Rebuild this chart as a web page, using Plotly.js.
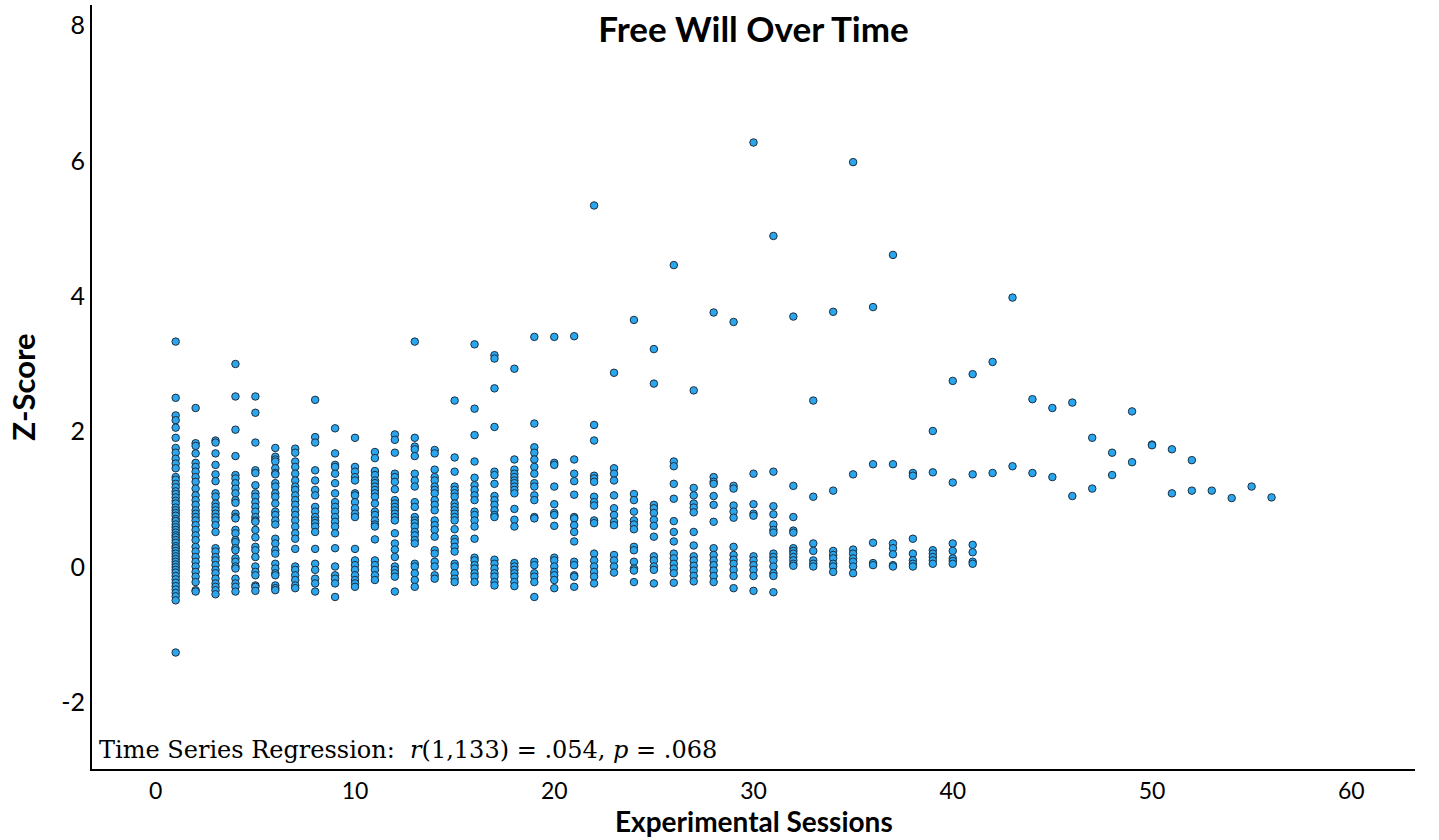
<!DOCTYPE html>
<html>
<head>
<meta charset="utf-8">
<script src="https://cdn.plot.ly/plotly-3.0.1.min.js"></script>
<style>html,body{margin:0;padding:0;background:#fff;}#chart{width:1439px;height:840px;}</style>
</head>
<body>
<div id="chart"></div>
<script>
// Experimental session numbers (x categories)
const sessions = [1,2,3,4,5,6,7,8,9,10,11,12,13,14,15,16,17,18,19,20,21,22,23,24,25,26,27,28,29,30,31,32,33,34,35,36,37,38,39,40,41,42,43,44,45,46,47,48,49,50,51,52,53,54,55,56];

const zScores = [
  /*1*/ [3.33,2.50,2.24,2.17,2.06,1.91,1.76,1.69,1.60,1.53,1.46,1.33,1.29,1.23,1.18,1.12,1.08,1.03,0.98,0.94,0.88,0.84,0.80,0.76,0.71,0.68,0.63,0.59,0.55,0.51,0.47,0.44,0.40,0.36,0.31,0.28,0.24,0.20,0.16,0.12,0.08,0.04,0.00,-0.04,-0.08,-0.13,-0.18,-0.23,-0.28,-0.33,-0.38,-0.43,-0.49,-1.26],
  /*2*/ [2.35,1.83,1.79,1.68,1.54,1.48,1.41,1.33,1.26,1.16,1.06,0.99,0.92,0.84,0.79,0.74,0.69,0.62,0.55,0.47,0.40,0.30,0.23,0.15,0.08,0.01,-0.07,-0.14,-0.22,-0.34,-0.36],
  /*3*/ [1.87,1.84,1.68,1.51,1.37,1.27,1.09,1.04,0.94,0.89,0.84,0.79,0.74,0.69,0.62,0.52,0.28,0.23,0.15,0.10,0.03,-0.04,-0.09,-0.17,-0.24,-0.29,-0.34,-0.40],
  /*4*/ [3.00,2.52,2.03,1.64,1.36,1.31,1.24,1.16,1.09,0.99,0.95,0.79,0.74,0.72,0.55,0.50,0.40,0.37,0.28,0.25,0.13,0.08,0.01,-0.02,-0.17,-0.24,-0.29,-0.36],
  /*5*/ [2.52,2.28,1.84,1.43,1.39,1.21,1.09,1.04,0.96,0.89,0.82,0.74,0.69,0.67,0.55,0.44,0.30,0.25,0.15,0.01,-0.07,-0.12,-0.27,-0.29,-0.35],
  /*6*/ [1.76,1.63,1.59,1.56,1.46,1.39,1.37,1.24,1.19,1.09,1.04,0.94,0.82,0.77,0.69,0.63,0.42,0.35,0.25,0.20,0.05,-0.02,-0.09,-0.12,-0.27,-0.31,-0.34],
  /*7*/ [1.75,1.69,1.56,1.48,1.38,1.28,1.19,1.14,1.06,0.99,0.92,0.84,0.77,0.69,0.60,0.50,0.42,0.27,0.01,-0.04,-0.12,-0.19,-0.27,-0.31],
  /*8*/ [2.47,1.92,1.84,1.43,1.28,1.14,1.06,0.89,0.82,0.74,0.69,0.65,0.60,0.52,0.27,0.05,-0.04,-0.17,-0.24,-0.36],
  /*9*/ [2.05,1.68,1.51,1.48,1.38,1.24,1.09,0.96,0.89,0.82,0.74,0.67,0.60,0.50,0.28,0.01,-0.12,-0.17,-0.24,-0.44],
  /*10*/ [1.91,1.48,1.41,1.33,1.28,1.09,1.06,0.96,0.87,0.79,0.74,0.27,0.10,0.03,-0.04,-0.12,-0.19,-0.24,-0.29],
  /*11*/ [1.70,1.61,1.42,1.36,1.28,1.24,1.19,1.14,1.09,1.04,0.94,0.82,0.77,0.69,0.63,0.60,0.41,0.10,0.03,-0.04,-0.12,-0.19],
  /*12*/ [1.96,1.88,1.69,1.38,1.33,1.26,1.15,0.99,0.94,0.89,0.84,0.79,0.74,0.69,0.50,0.35,0.26,0.15,0.01,-0.04,-0.09,-0.14,-0.36],
  /*13*/ [3.33,1.91,1.78,1.74,1.64,1.38,1.28,1.19,0.96,0.89,0.74,0.69,0.65,0.60,0.52,0.47,0.40,0.35,0.05,0.01,-0.09,-0.19,-0.29],
  /*14*/ [1.73,1.68,1.44,1.33,1.28,1.19,1.14,1.09,0.99,0.92,0.84,0.69,0.62,0.55,0.45,0.25,0.20,0.08,0.01,-0.12,-0.17],
  /*15*/ [2.46,1.62,1.41,1.19,1.14,1.09,1.04,0.94,0.89,0.84,0.79,0.74,0.69,0.56,0.42,0.37,0.30,0.23,0.05,0.01,-0.09,-0.17,-0.22],
  /*16*/ [3.29,2.34,1.95,1.56,1.32,1.21,1.14,1.06,0.99,0.82,0.77,0.69,0.60,0.42,0.14,0.10,0.03,-0.02,-0.09,-0.14,-0.22],
  /*17*/ [3.13,3.08,2.64,2.07,1.41,1.36,1.23,1.05,0.99,0.92,0.84,0.77,0.74,0.11,0.05,-0.02,-0.09,-0.14,-0.22,-0.27],
  /*18*/ [2.93,1.59,1.44,1.38,1.33,1.28,1.24,1.19,1.14,1.09,0.86,0.70,0.60,0.06,0.01,-0.04,-0.09,-0.14,-0.22,-0.28],
  /*19*/ [3.40,2.12,1.77,1.69,1.59,1.48,1.38,1.24,1.19,1.06,0.99,0.74,0.72,0.08,0.03,-0.09,-0.14,-0.22,-0.44],
  /*20*/ [3.40,1.54,1.51,1.19,0.93,0.80,0.77,0.61,0.14,0.10,0.01,-0.07,-0.12,-0.19,-0.31],
  /*21*/ [3.41,1.59,1.38,1.27,1.07,0.74,0.72,0.62,0.52,0.38,0.08,0.03,-0.12,-0.14,-0.29],
  /*22*/ [5.34,2.10,1.87,1.35,1.31,1.26,1.04,0.96,0.91,0.69,0.65,0.20,0.10,0.01,-0.07,-0.14,-0.24],
  /*23*/ [2.87,1.46,1.38,1.28,1.06,0.87,0.77,0.67,0.62,0.18,0.10,0.01,-0.08],
  /*24*/ [3.65,1.08,0.99,0.82,0.69,0.63,0.56,0.30,0.25,0.08,-0.02,-0.05,-0.22],
  /*25*/ [3.22,2.71,0.92,0.87,0.80,0.70,0.61,0.45,0.16,0.10,0.01,-0.04,-0.24],
  /*26*/ [4.46,1.56,1.49,1.23,1.01,0.68,0.52,0.38,0.20,0.13,0.05,-0.02,-0.09,-0.23],
  /*27*/ [2.61,1.17,1.06,0.94,0.88,0.81,0.52,0.32,0.16,0.10,0.02,-0.05,-0.13,-0.21],
  /*28*/ [3.76,1.33,1.26,1.23,1.05,0.92,0.67,0.28,0.18,0.10,0.03,-0.05,-0.13,-0.22],
  /*29*/ [3.62,1.20,1.16,0.91,0.82,0.73,0.30,0.18,0.11,0.05,-0.04,-0.13,-0.31],
  /*30*/ [6.27,1.38,0.93,0.79,0.76,0.16,0.10,0.03,-0.04,-0.13,-0.35],
  /*31*/ [4.89,1.41,0.90,0.78,0.63,0.55,0.51,0.20,0.15,0.10,0.01,-0.09,-0.13,-0.37],
  /*32*/ [3.70,1.20,0.74,0.54,0.51,0.28,0.24,0.20,0.15,0.10,0.05,0.02],
  /*33*/ [2.46,1.04,0.35,0.24,0.10,0.05,0.01],
  /*34*/ [3.77,1.13,0.24,0.18,0.13,0.05,0.01,-0.07],
  /*35*/ [5.98,1.37,0.26,0.20,0.13,0.08,0.01,-0.09],
  /*36*/ [3.84,1.52,0.36,0.06,0.03],
  /*37*/ [4.61,1.52,0.35,0.28,0.19,0.03,0.01],
  /*38*/ [1.39,1.35,0.42,0.20,0.10,0.05,0.01],
  /*39*/ [2.01,1.40,0.25,0.20,0.15,0.10,0.05],
  /*40*/ [2.75,1.25,0.35,0.24,0.13,0.09,0.05],
  /*41*/ [2.85,1.37,0.33,0.22,0.08,0.05],
  /*42*/ [3.03,1.39],
  /*43*/ [3.98,1.49],
  /*44*/ [2.48,1.39],
  /*45*/ [2.35,1.33],
  /*46*/ [2.43,1.05],
  /*47*/ [1.91,1.16],
  /*48*/ [1.69,1.36],
  /*49*/ [2.30,1.55],
  /*50*/ [1.81,1.80],
  /*51*/ [1.74,1.09],
  /*52*/ [1.58,1.13],
  /*53*/ [1.13],
  /*54*/ [1.02],
  /*55*/ [1.19],
  /*56*/ [1.03]
];

const xTickVals = [0,10,20,30,40,50,60];
const yTickVals = [-2,0,2,4,6,8];
const yTickText = ['-2','0','2','4','6','8'];

const xs = [], ys = [];
sessions.forEach((s, i) => { zScores[i].forEach(z => { xs.push(s); ys.push(z); }); });

const sansFont = "Lato, 'Open Sans', sans-serif";

const trace = {
  type: 'scatter', mode: 'markers', x: xs, y: ys,
  marker: { size: 7.5, color: '#2aa6ee', line: { color: '#1c2f40', width: 1 } },
  hoverinfo: 'x+y'
};

const layout = {
  width: 1439, height: 840,
  paper_bgcolor: '#fff', plot_bgcolor: '#fff',
  margin: { l: 92, r: 24, t: 5, b: 71 },
  showlegend: false,
  font: { family: sansFont, color: '#000' },
  title: {
    text: '<b>Free Will Over Time</b>', font: { family: sansFont, size: 35, color: '#000' },
    x: 0.5, xanchor: 'center', xref: 'paper',
    y: 1 - 30/840, yanchor: 'middle', yref: 'container'
  },
  xaxis: {
    range: [-3.2, 63.2], tickvals: xTickVals, ticks: '', showgrid: false, zeroline: false,
    showline: true, linecolor: '#000', linewidth: 2,
    tickfont: { family: sansFont, size: 23, color: '#000' }
  },
  yaxis: {
    range: [-2.98, 8.3], tickvals: yTickVals, ticktext: yTickText, ticks: '', showgrid: false, zeroline: false,
    showline: true, linecolor: '#000', linewidth: 2,
    tickfont: { family: sansFont, size: 25, color: '#000' },
    title: { text: '<b>Z-Score</b>', font: { family: sansFont, size: 31, color: '#000' }, standoff: 16 }
  },
  annotations: [{
    xref: 'paper', yref: 'paper', x: 0.004, y: 0.025, xanchor: 'left', yanchor: 'middle',
    showarrow: false,
    text: 'Time Series Regression:  <i>r</i>(1,133) = .054, <i>p</i> = .068',
    font: { family: "'DejaVu Serif', serif", size: 24, color: '#000' }
  }, {
    // x-axis title, placed as text so it can sit right under the tick labels
    xref: 'paper', yref: 'paper', x: 0.5, y: (769 - 821) / 764, xanchor: 'center', yanchor: 'middle',
    showarrow: false,
    text: '<b>Experimental Sessions</b>',
    font: { family: sansFont, size: 28, color: '#000' }
  }]
};

Plotly.newPlot('chart', [trace], layout, { displayModeBar: false, staticPlot: true });
</script>
</body>
</html>
